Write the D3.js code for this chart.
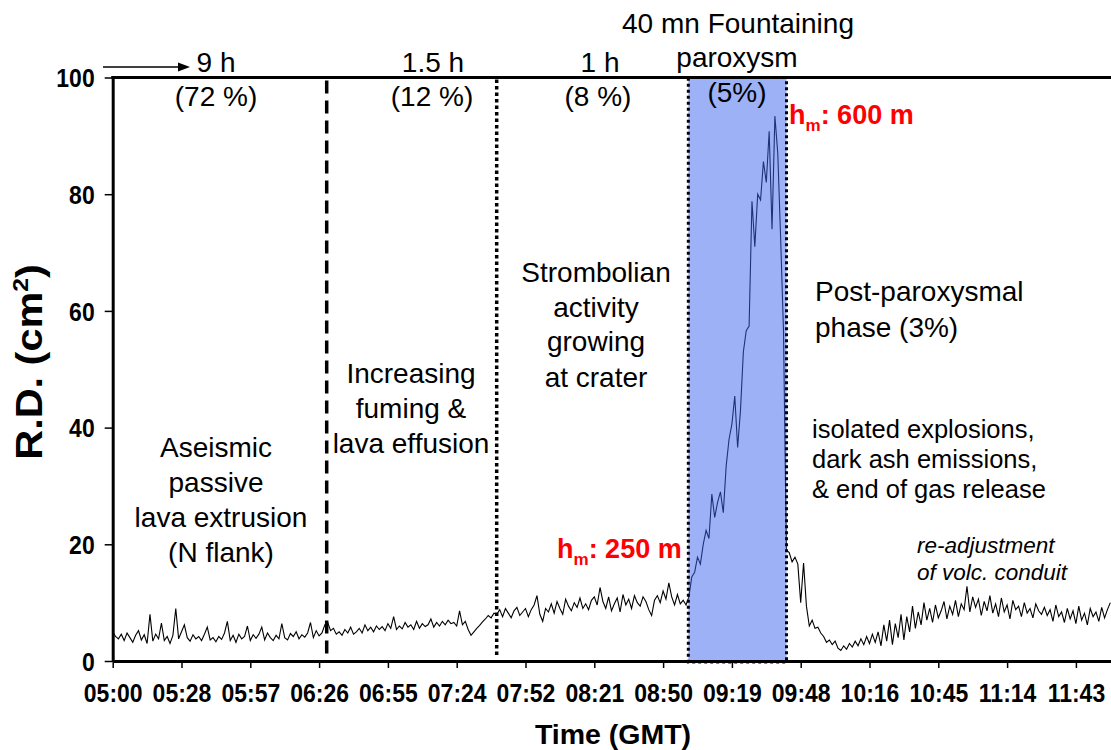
<!DOCTYPE html>
<html><head><meta charset="utf-8">
<script src="https://cdn.jsdelivr.net/npm/d3@7"></script>
<style>
html,body{margin:0;padding:0;background:#fff;overflow:hidden;}
svg{display:block;}
text{font-family:"Liberation Sans", Arial, sans-serif;fill:#000;}
</style></head><body>
<svg id="chart" width="1111" height="750"></svg>
<script>
// ---- data ----
const yTickValues = [0, 20, 40, 60, 80, 100];
const yTickLabels = ["0", "20", "40", "60", "80", "100"];
const xTickHours = [5.00, 5.48, 5.96, 6.44, 6.92, 7.40, 7.88, 8.36, 8.84, 9.32, 9.80, 10.28, 10.76, 11.24, 11.72];
const xTickLabels = ["05:00", "05:28", "05:57", "06:26", "06:55", "07:24", "07:52", "08:21", "08:50", "09:19", "09:48", "10:16", "10:45", "11:14", "11:43"];
const axisStartHour = 5.0, axisEndHour = 12.2;
const sampleStartHour = 5.0;
const sampleStepMinutes = 1.2;
// R.D. (cm²), one value per sample
const rdValues = [
  5.0, 4.2, 3.8, 4.6, 3.5, 4.8, 4.0, 3.2, 4.4, 5.2,
  3.6, 4.5, 3.0, 8.0, 3.4, 4.6, 3.8, 6.5, 3.5, 4.2,
  3.0, 4.4, 9.0, 3.8, 5.0, 6.2, 4.0, 3.4, 4.5, 3.8,
  4.2, 3.5, 4.6, 5.8, 3.6, 4.0, 3.3, 4.2, 3.7, 4.8,
  6.8, 3.5, 4.4, 3.2, 4.6, 3.8, 4.2, 6.0, 3.5, 4.5,
  3.9, 4.6, 5.8, 3.6, 4.8, 4.0, 3.5, 4.4, 3.8, 6.4,
  4.0, 3.6, 4.7, 4.2, 5.0, 3.8, 4.5, 4.1, 4.8, 6.6,
  4.0, 5.2, 4.3, 4.8, 6.2,
  6.6, 5.2, 5.6, 4.6, 5.0, 4.4, 5.4, 4.8, 5.8, 4.6,
  5.0, 5.6, 4.8, 6.2, 5.2, 5.8, 5.0, 6.0, 5.4, 5.9,
  5.2, 6.4, 5.6, 7.6, 5.4, 6.0, 5.5, 6.6, 5.8, 6.2,
  5.4, 6.8, 5.6, 6.4, 5.9, 6.2, 7.2, 5.8, 6.6, 6.0,
  6.8, 6.2, 7.0, 6.4, 6.6, 6.0, 8.6, 6.2, 6.8, 5.4,
  4.4, 5.0, 5.6, 6.1, 6.7, 7.2, 7.8, 7.4, 8.2,
  8.0, 8.8, 7.6, 9.0, 8.2, 7.4, 8.6, 9.2, 7.8, 8.4,
  9.0, 7.6, 8.8, 9.6, 11.2, 8.0, 6.8, 9.0, 8.4, 9.8,
  8.2, 10.2, 9.0, 8.0, 10.6, 9.4, 8.6, 10.0, 9.2, 10.8,
  9.0, 9.8, 8.8, 10.4, 11.0, 9.6, 12.6, 10.2, 9.0, 11.0,
  8.6, 9.8, 10.8, 8.4, 11.4, 9.6, 10.6, 9.0, 11.2, 10.0,
  9.4, 11.0, 10.2, 8.8, 7.8, 10.4, 11.2, 10.0, 12.0, 10.6,
  13.4, 11.0, 9.6, 11.4, 9.8, 10.4, 9.6,
  11.0, 14.4, 15.2, 17.8, 16.6, 20.0, 22.4, 21.0, 28.6, 24.6,
  27.2, 29.0, 25.4, 33.4, 38.0, 40.6, 45.4, 36.6, 43.0, 53.0,
  56.6, 57.4, 78.8, 71.0, 80.0, 79.0, 85.6, 82.0, 90.8, 74.0,
  93.4, 87.0, 72.5, 56.6, 19.0,
  18.6, 17.0, 17.8, 16.6, 10.0, 16.8, 9.4, 6.0, 7.0, 5.6,
  5.8, 4.8, 4.2, 3.2, 3.6, 2.8, 3.4, 2.2, 1.8, 2.6,
  2.0, 3.0, 2.4, 3.4, 2.6, 3.8, 2.8, 4.2, 3.0, 4.6,
  3.2, 5.0, 2.6, 6.2, 3.4, 7.0, 2.8, 6.4, 4.0, 8.0,
  3.6, 7.6, 5.0, 9.4, 5.6, 8.4, 6.2, 10.0, 7.0, 9.0,
  6.6, 9.6, 7.4, 8.6, 10.2, 7.2, 9.4, 8.0, 10.4, 7.6,
  9.8, 8.8, 12.8, 8.4, 11.0, 9.2, 10.6, 7.8, 10.2, 8.6,
  11.2, 8.2, 9.8, 7.6, 10.8, 8.4, 9.6, 7.2, 10.4, 8.8,
  9.4, 7.6, 10.0, 8.2, 9.0, 7.4, 9.8, 8.6, 8.0, 9.2,
  7.8, 8.8, 6.8, 9.6, 7.6, 8.4, 6.6, 9.0, 7.2, 8.6,
  6.4, 9.4, 7.0, 8.2, 6.2, 9.0, 7.6, 8.4, 6.8, 9.2,
  7.4, 8.8, 10.0
];
// phase boundaries (hours, GMT)
const dashedBoundaryHour = 6.493;
const dottedBoundaryHour = 7.679;
const paroxysmStartHour = 9.016;
const paroxysmEndHour = 9.701;

// ---- drawing ----
const svg = d3.select("#chart");
const x = d3.scaleLinear().domain([axisStartHour, axisEndHour]).range([112.7, 1144.7]);
const y = d3.scaleLinear().domain([0, 100]).range([661, 77.5]);
const FONT = '"Liberation Sans", Arial, sans-serif';
const STRETCH = 1.12; // tick labels are taller than wide in the reference

// trace
const line = d3.line()
  .x((d, i) => x(sampleStartHour + i * sampleStepMinutes / 60))
  .y(d => y(d));
svg.append("path").datum(rdValues)
  .attr("d", line).attr("fill", "none")
  .attr("stroke", "#000").attr("stroke-width", 1.1)
  .attr("stroke-linejoin", "miter");

// paroxysm band (semi-transparent so the trace shows navy through it)
svg.append("rect")
  .attr("x", x(paroxysmStartHour)).attr("y", y(100))
  .attr("width", x(paroxysmEndHour) - x(paroxysmStartHour))
  .attr("height", y(0) - y(100) + 1)
  .attr("fill", "rgb(60,100,240)").attr("fill-opacity", 0.5);

// axes
const yAxis = d3.axisLeft(y).tickValues(yTickValues)
  .tickFormat((d, i) => yTickLabels[i]).tickSize(8).tickSizeOuter(0).tickPadding(10);
const gy = svg.append("g").attr("transform", `translate(${x(axisStartHour)},0)`).call(yAxis);
gy.select(".domain").attr("stroke-width", 3);
gy.selectAll(".tick line").attr("stroke-width", 1.5);
gy.selectAll(".tick text").attr("font-family", FONT).attr("font-size", 23).attr("font-weight", "bold")
  .attr("dy", "0.36em").attr("transform", `scale(1,${STRETCH})`);

const xAxis = d3.axisBottom(x).tickValues(xTickHours)
  .tickFormat((d, i) => xTickLabels[i]).tickSize(7).tickSizeOuter(0).tickPadding(15);
const gx = svg.append("g").attr("transform", `translate(0,${y(0)})`).call(xAxis);
gx.select(".domain").attr("stroke-width", 3);
gx.selectAll(".tick line").attr("stroke-width", 1.5);
gx.selectAll(".tick text").attr("font-family", FONT).attr("font-size", 23).attr("font-weight", "bold")
  .attr("y", 20).attr("transform", `scale(1,${STRETCH})`);

// top frame line
svg.append("line").attr("x1", x(axisStartHour) - 1.5).attr("x2", x(axisEndHour))
  .attr("y1", y(100)).attr("y2", y(100)).attr("stroke", "#000").attr("stroke-width", 3);

// phase boundary lines
svg.append("line").attr("x1", x(dashedBoundaryHour)).attr("x2", x(dashedBoundaryHour))
  .attr("y1", y(100) + 3).attr("y2", y(0) - 5)
  .attr("stroke", "#000").attr("stroke-width", 3.5).attr("stroke-dasharray", "13,7");
svg.append("line").attr("x1", x(dottedBoundaryHour)).attr("x2", x(dottedBoundaryHour))
  .attr("y1", y(100) + 2).attr("y2", y(0) - 3)
  .attr("stroke", "#000").attr("stroke-width", 3.5).attr("stroke-dasharray", "3.5,3");

// paroxysm band dotted border
svg.append("rect")
  .attr("x", x(paroxysmStartHour)).attr("y", y(100))
  .attr("width", x(paroxysmEndHour) - x(paroxysmStartHour))
  .attr("height", y(0) - y(100) + 1)
  .attr("fill", "none").attr("stroke", "#000").attr("stroke-width", 3)
  .attr("stroke-dasharray", "3,3");

// arrow next to 100
svg.append("line").attr("x1", 103).attr("x2", 181).attr("y1", 67).attr("y2", 67)
  .attr("stroke", "#000").attr("stroke-width", 1.3);
svg.append("path").attr("d", "M190,67 L178,62.5 L178,71.5 Z").attr("fill", "#000");

// text helper
function txt(s, px, py, o = {}) {
  const t = svg.append("text").attr("x", px).attr("y", py)
    .attr("font-family", FONT)
    .attr("font-size", o.size || 28)
    .attr("font-weight", o.weight || "normal")
    .attr("font-style", o.style || "normal")
    .attr("text-anchor", o.anchor || "middle")
    .style("fill", o.fill || "#000")
    .text(s);
  return t;
}

// phase durations
txt("9 h", 216, 72);
txt("(72 %)", 216, 106);
txt("1.5 h", 433, 72);
txt("(12 %)", 432, 106);
txt("1 h", 600, 72);
txt("(8 %)", 598, 106);
txt("40 mn Fountaining", 738, 33);
txt("paroxysm", 737, 67);
txt("(5%)", 737, 102);

// phase descriptions
[["Aseismic", 216, 457], ["passive", 216, 492], ["lava extrusion", 221, 527], ["(N flank)", 221, 562]]
  .forEach(d => txt(d[0], d[1], d[2]));
[["Increasing", 411, 383], ["fuming &", 411, 418], ["lava effusion", 411, 453]]
  .forEach(d => txt(d[0], d[1], d[2]));
[["Strombolian", 596, 282], ["activity", 596, 317], ["growing", 596, 351], ["at crater", 596, 387]]
  .forEach(d => txt(d[0], d[1], d[2]));
txt("Post-paroxysmal", 815, 301, {anchor: "start"});
txt("phase (3%)", 815, 337, {anchor: "start"});
[["isolated explosions,", 438], ["dark ash emissions,", 468], ["& end of gas release", 498]]
  .forEach(d => txt(d[0], 812, d[1], {anchor: "start", size: 25.5}));
txt("re-adjustment", 917, 553, {anchor: "start", size: 22.5, style: "italic"});
txt("of volc. conduit", 917, 580, {anchor: "start", size: 22.5, style: "italic"});

// heights (red)
function hm(value, px, py) {
  const t = svg.append("text").attr("x", px).attr("y", py)
    .attr("font-family", FONT).attr("font-size", 27).attr("font-weight", "bold")
    .style("fill", "#ff0000");
  t.append("tspan").text("h");
  t.append("tspan").attr("font-size", 17).attr("dy", 7).text("m");
  t.append("tspan").attr("dy", -7).text(": " + value);
}
hm("250 m", 557, 558);
hm("600 m", 789, 124);

// axis titles
txt("Time (GMT)", 613, 744, {weight: "bold", size: 28.5});
const yt = svg.append("text")
  .attr("transform", `translate(42,362) scale(1,${STRETCH}) rotate(-90)`)
  .attr("text-anchor", "middle").attr("font-family", FONT)
  .attr("font-size", 37).attr("font-weight", "bold");
yt.append("tspan").text("R.D. (cm");
yt.append("tspan").attr("font-size", 22).attr("dy", -14).text("2");
yt.append("tspan").attr("dy", 14).text(")");
</script>
</body></html>
